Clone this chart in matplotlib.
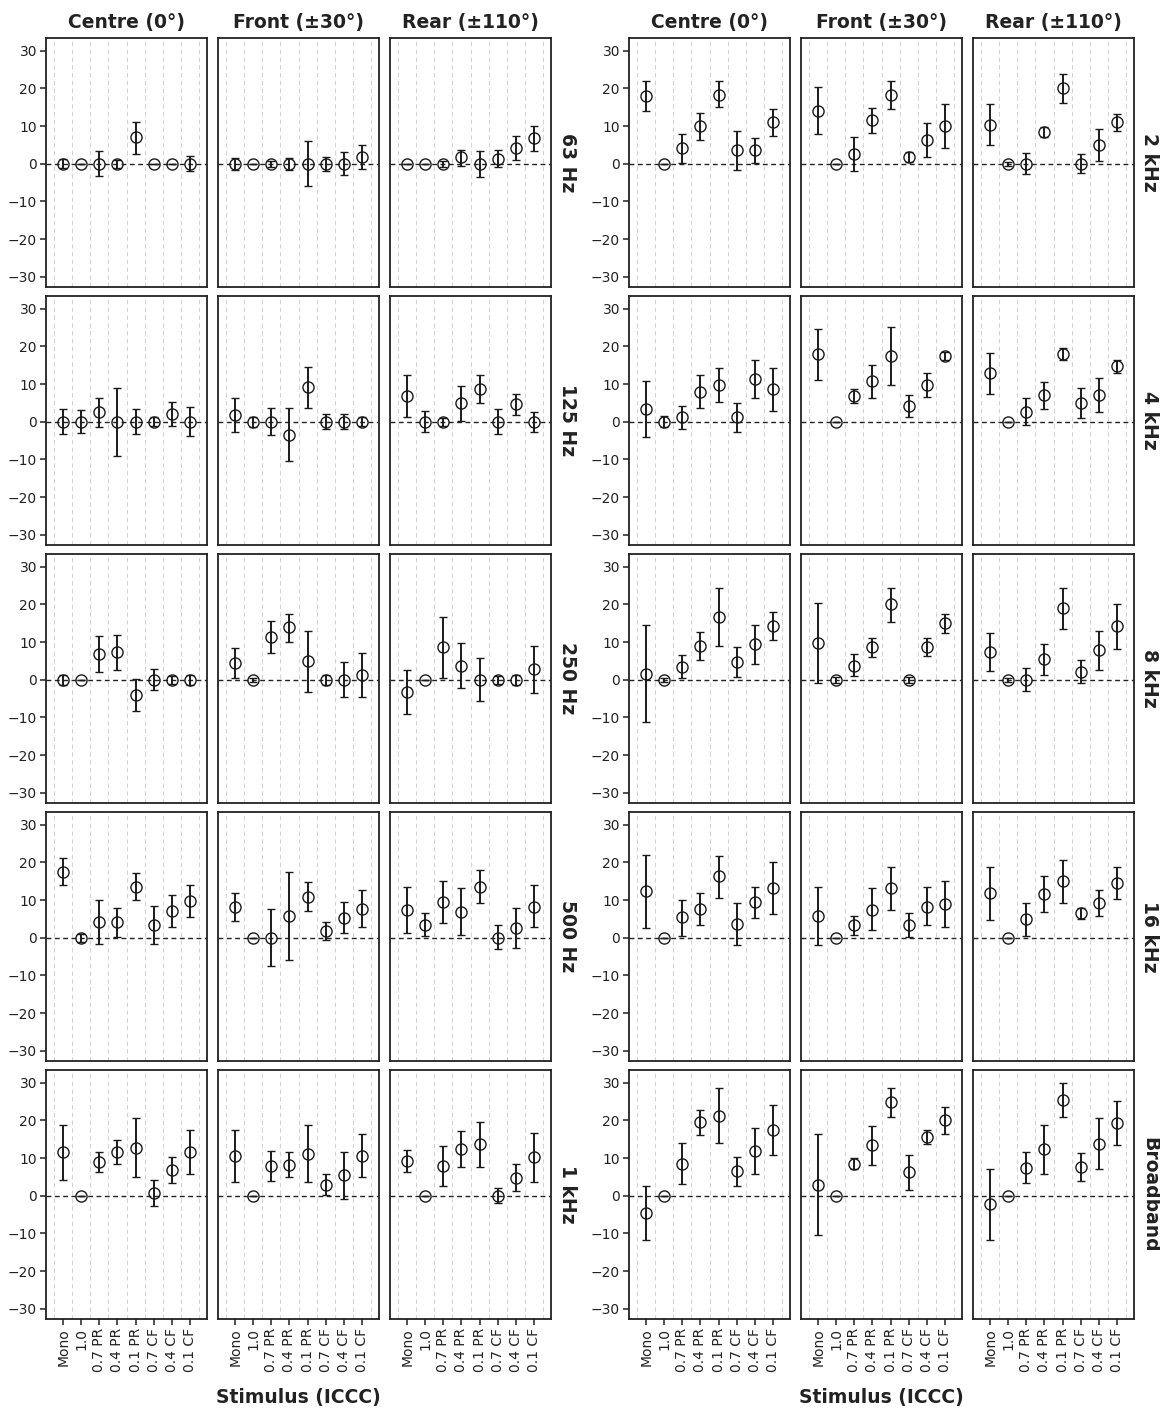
import matplotlib
matplotlib.use("Agg")
import matplotlib.pyplot as plt
import numpy as np

plt.rcParams["font.family"] = ["DejaVu Sans"]

stimuli = ["Mono", "1.0", "0.7 PR", "0.4 PR", "0.1 PR", "0.7 CF", "0.4 CF", "0.1 CF"]
directions = ["Centre (0°)", "Front (±30°)", "Rear (±110°)"]

# rows: Centre, Front, Rear ; columns: stimuli
mean_63 = [[0, 0, 0, 0, 7.0, 0, 0, 0],
           [0, 0, 0, 0, 0, 0, 0, 1.8],
           [0, 0, 0, 1.7, 0, 1.3, 4.3, 6.8]]
lo_63 = [[-1.2, 0, -3.3, -1.0, 2.7, 0, 0, -1.9],
         [-1.6, 0, -0.8, -1.6, -6.0, -1.9, -3.0, -1.4],
         [0, 0, -0.8, -0.5, -3.4, -0.9, 1.1, 3.4]]
hi_63 = [[1.2, 0, 3.4, 1.0, 11.0, 0, 0, 2.0],
         [1.6, 0, 0.8, 1.6, 6.0, 1.9, 3.2, 4.9],
         [0, 0, 0.8, 3.8, 3.5, 3.7, 7.4, 10.0]]

mean_125 = [[0, 0, 2.5, 0, 0, 0, 2.2, 0],
            [1.8, 0, 0, -3.4, 9.2, 0, 0, 0],
            [6.9, 0, 0, 5.0, 8.6, 0, 4.6, 0]]
lo_125 = [[-3.3, -3.0, -1.3, -9.0, -3.3, -1.2, -1.1, -3.8],
          [-2.7, -1.3, -3.6, -10.3, 3.6, -2.0, -2.0, -1.2],
          [1.2, -2.6, -1.0, 0.3, 5.0, -3.3, 1.9, -2.6]]
hi_125 = [[3.4, 3.1, 6.4, 9.1, 3.4, 1.2, 5.3, 4.0],
          [6.2, 1.4, 3.7, 3.7, 14.6, 2.2, 2.2, 1.2],
          [12.4, 2.8, 1.0, 9.6, 12.3, 3.5, 7.3, 2.7]]

mean_250 = [[0, 0, 6.8, 7.4, -4.0, 0, 0, 0],
            [4.4, 0, 11.3, 13.9, 5.0, 0, 0, 1.3],
            [-3.3, 0, 8.6, 3.7, 0, 0, 0, 2.8]]
lo_250 = [[-1.4, 0, 2.0, 2.5, -8.2, -2.8, -1.0, -1.4],
          [0.4, -0.5, 7.0, 10.1, -3.2, -1.4, -4.6, -4.6],
          [-9.2, 0, 0.5, -2.2, -5.6, -1.0, -1.4, -3.4]]
hi_250 = [[1.4, 0, 11.5, 12.0, 0.3, 2.8, 1.0, 1.4],
          [8.4, 0.5, 15.6, 17.6, 13.0, 1.4, 4.7, 7.1],
          [2.7, 0, 16.6, 9.7, 5.7, 1.0, 1.4, 9.1]]

mean_500 = [[17.6, 0, 4.2, 4.1, 13.6, 3.4, 7.1, 9.8],
            [8.2, 0, 0, 5.8, 10.8, 1.8, 5.3, 7.6],
            [7.4, 3.5, 9.4, 6.9, 13.6, 0, 2.6, 8.3]]
lo_500 = [[13.9, -1.0, -1.7, 0.3, 10.0, -1.7, 3.0, 5.6],
          [4.4, 0, -7.5, -5.9, 7.1, -0.6, 1.4, 2.8],
          [1.4, 0.4, 3.9, 0.8, 9.3, -3.1, -2.8, 2.8]]
hi_500 = [[21.2, 1.0, 10.0, 8.0, 17.2, 8.4, 11.4, 13.9],
          [12.0, 0, 7.7, 17.5, 14.8, 4.1, 9.4, 12.7],
          [13.4, 6.7, 15.1, 13.1, 17.9, 3.4, 7.9, 13.9]]

mean_1k = [[11.5, 0, 8.9, 11.7, 12.8, 0.7, 6.9, 11.7],
           [10.7, 0, 7.9, 8.3, 11.0, 3.0, 5.4, 10.7],
           [9.2, 0, 7.9, 12.3, 13.7, 0, 4.8, 10.2]]
lo_1k = [[4.2, 0, 6.2, 8.5, 4.9, -2.8, 3.5, 5.9],
         [3.7, 0, 4.0, 5.1, 3.6, 0.3, -0.8, 4.9],
         [6.3, 0, 2.7, 7.6, 7.7, -1.8, 1.3, 3.6]]
hi_1k = [[18.8, 0, 11.7, 14.8, 20.7, 4.1, 10.2, 17.5],
         [17.6, 0, 11.8, 11.6, 18.7, 5.8, 11.6, 16.5],
         [12.2, 0, 13.2, 17.2, 19.7, 2.1, 8.5, 16.8]]

mean_2k = [[18.0, 0, 4.1, 10.0, 18.4, 3.6, 3.6, 11.0],
           [14.1, 0, 2.5, 11.6, 18.3, 1.8, 6.3, 10.0],
           [10.4, 0, 0, 8.4, 20.0, 0, 5.0, 11.0]]
lo_2k = [[14.0, 0, 0.2, 6.3, 15.0, -1.6, 0.3, 7.5],
         [7.9, 0, -2.0, 8.3, 14.5, 0.6, 1.9, 4.1],
         [5.0, -0.5, -2.7, 7.0, 16.2, -2.4, 0.8, 8.7]]
hi_2k = [[22.1, 0, 7.9, 13.6, 21.9, 8.6, 6.8, 14.6],
         [20.3, 0, 7.0, 14.9, 22.0, 3.1, 10.9, 15.9],
         [15.8, 0.5, 2.9, 9.9, 23.8, 2.5, 9.2, 13.2]]

mean_4k = [[3.3, 0, 1.2, 8.0, 9.8, 1.2, 11.4, 8.7],
           [17.9, 0, 6.9, 10.8, 17.5, 4.2, 9.8, 17.4],
           [12.9, 0, 2.7, 7.1, 18.1, 4.9, 7.1, 14.7]]
lo_4k = [[-4.1, -1.3, -1.8, 3.7, 5.2, -2.7, 6.2, 2.9],
         [11.0, 0, 5.0, 6.4, 9.9, 1.3, 6.7, 16.3],
         [7.4, 0, -0.8, 3.5, 16.4, 0.9, 2.6, 13.0]]
hi_4k = [[10.8, 1.6, 4.3, 12.4, 14.3, 5.0, 16.5, 14.3],
         [24.7, 0, 8.7, 15.2, 25.1, 7.0, 12.9, 18.6],
         [18.3, 0, 6.3, 10.7, 19.7, 8.9, 11.6, 16.4]]

mean_8k = [[1.6, 0, 3.5, 9.0, 16.6, 4.6, 9.4, 14.2],
           [9.9, 0, 3.8, 8.6, 20.0, 0, 8.7, 15.0],
           [7.3, 0, 0, 5.4, 19.0, 2.2, 7.8, 14.2]]
lo_8k = [[-11.1, -0.5, 0.4, 5.2, 9.0, 0.7, 4.3, 10.5],
         [-0.9, -0.8, 0.9, 6.1, 15.4, -0.8, 6.3, 12.5],
         [2.4, -0.6, -3.1, 1.2, 13.5, -0.9, 2.6, 8.3]]
hi_8k = [[14.5, 0.5, 6.6, 12.8, 24.3, 8.6, 14.6, 17.9],
         [20.5, 0.8, 6.8, 11.0, 24.5, 0.8, 11.0, 17.5],
         [12.4, 0.6, 3.1, 9.4, 24.5, 5.3, 13.0, 20.0]]

mean_16k = [[12.4, 0, 5.4, 7.6, 16.3, 3.7, 9.4, 13.2],
            [5.9, 0, 3.4, 7.5, 13.2, 3.5, 8.3, 9.0],
            [11.8, 0, 5.0, 11.6, 15.0, 6.5, 9.3, 14.6]]
lo_16k = [[2.6, 0, 0.5, 3.3, 10.7, -1.8, 5.2, 6.3],
          [-1.8, 0, 0.8, 2.0, 7.3, 0.3, 3.3, 3.0],
          [4.7, 0, 0.5, 6.9, 9.3, 4.9, 5.9, 10.2]]
hi_16k = [[21.9, 0, 10.0, 11.9, 21.6, 9.2, 13.4, 20.0],
          [13.4, 0, 5.8, 13.1, 18.8, 6.5, 13.4, 15.1],
          [18.8, 0, 9.2, 16.3, 20.6, 8.0, 12.7, 18.8]]

mean_bb = [[-4.6, 0, 8.5, 19.5, 21.3, 6.5, 11.8, 17.5],
           [3.0, 0, 8.5, 13.4, 24.8, 6.2, 15.6, 20.1],
           [-2.2, 0, 7.5, 12.3, 25.5, 7.6, 13.8, 19.4]]
lo_bb = [[-11.8, 0, 3.1, 16.2, 13.9, 2.6, 5.8, 10.8],
         [-10.3, 0, 7.0, 8.3, 21.0, 1.6, 13.7, 16.5],
         [-11.6, 0, 3.4, 5.9, 20.8, 3.9, 7.0, 13.5]]
hi_bb = [[2.7, 0, 14.0, 22.8, 28.7, 10.4, 17.9, 24.2],
         [16.4, 0, 10.0, 18.5, 28.6, 10.9, 17.5, 23.7],
         [7.1, 0, 11.6, 18.8, 30.0, 11.4, 20.6, 25.2]]

left_bands = [("63 Hz", mean_63, lo_63, hi_63),
              ("125 Hz", mean_125, lo_125, hi_125),
              ("250 Hz", mean_250, lo_250, hi_250),
              ("500 Hz", mean_500, lo_500, hi_500),
              ("1 kHz", mean_1k, lo_1k, hi_1k)]
right_bands = [("2 kHz", mean_2k, lo_2k, hi_2k),
               ("4 kHz", mean_4k, lo_4k, hi_4k),
               ("8 kHz", mean_8k, lo_8k, hi_8k),
               ("16 kHz", mean_16k, lo_16k, hi_16k),
               ("Broadband", mean_bb, lo_bb, hi_bb)]

W, H = 1160, 1409
fig = plt.figure(figsize=(W / 100, H / 100), dpi=100)

panel_w, panel_h = 161, 249
col_gap, row_step = 11, 258
block_left = [46, 629]
top0 = 38
x = np.arange(len(stimuli))
edge = "#1a1a1a"


def draw_panel(ax, m, lo, hi, first_col, bottom_row):
    m = np.array(m, dtype=float)
    lo = np.array(lo, dtype=float)
    hi = np.array(hi, dtype=float)
    for g in np.arange(-0.5, len(stimuli), 1.0):
        ax.axvline(g, color="#d4d4d4", lw=0.8, ls=(0, (4, 3)), zorder=0)
    ax.axhline(0, color="#222222", lw=1.0, ls=(0, (3.5, 2.5)), zorder=1)
    ax.errorbar(x, m, yerr=[m - lo, hi - m], fmt="o", ms=8, mfc="none",
                mec=edge, mew=1.0, ecolor=edge, elinewidth=1.4,
                capsize=2.6, capthick=1.4, zorder=3)
    ax.set_xlim(-0.95, 7.95)
    ax.set_ylim(-32.7, 33.4)
    for s in ax.spines.values():
        s.set_color("#222222")
        s.set_linewidth(1.3)
    ax.set_yticks([-30, -20, -10, 0, 10, 20, 30])
    ax.set_xticks(x)
    ax.tick_params(direction="out", length=4.5, width=1.1, color="#222222",
                   labelsize=10, labelcolor="#222222", pad=2)
    if not first_col:
        ax.tick_params(axis="y", left=False, labelleft=False)
    if bottom_row:
        ax.set_xticklabels(stimuli, rotation=90)
    else:
        ax.tick_params(axis="x", bottom=False, labelbottom=False)


for b, bands in enumerate([left_bands, right_bands]):
    for r, (label, means, los, his) in enumerate(bands):
        top = top0 + r * row_step
        for c in range(3):
            left = block_left[b] + c * (panel_w + col_gap)
            ax = fig.add_axes([left / W, 1 - (top + panel_h) / H,
                               panel_w / W, panel_h / H])
            draw_panel(ax, means[c], los[c], his[c], c == 0, r == len(bands) - 1)
            if r == 0:
                ax.set_title(directions[c], fontsize=13.5, fontweight="bold",
                             color="#222222", pad=7)
        # row label on the right of the block
        xr = block_left[b] + 3 * panel_w + 2 * col_gap + 16
        fig.text(xr / W, 1 - (top + panel_h / 2) / H, label, rotation=-90,
                 ha="center", va="center", fontsize=13.5, fontweight="bold",
                 color="#222222")
    xc = block_left[b] + (3 * panel_w + 2 * col_gap) / 2
    fig.text(xc / W, 1 - 1397 / H, "Stimulus (ICCC)", ha="center", va="center",
             fontsize=13.5, fontweight="bold", color="#222222")

fig.savefig("out.png", dpi=100)
